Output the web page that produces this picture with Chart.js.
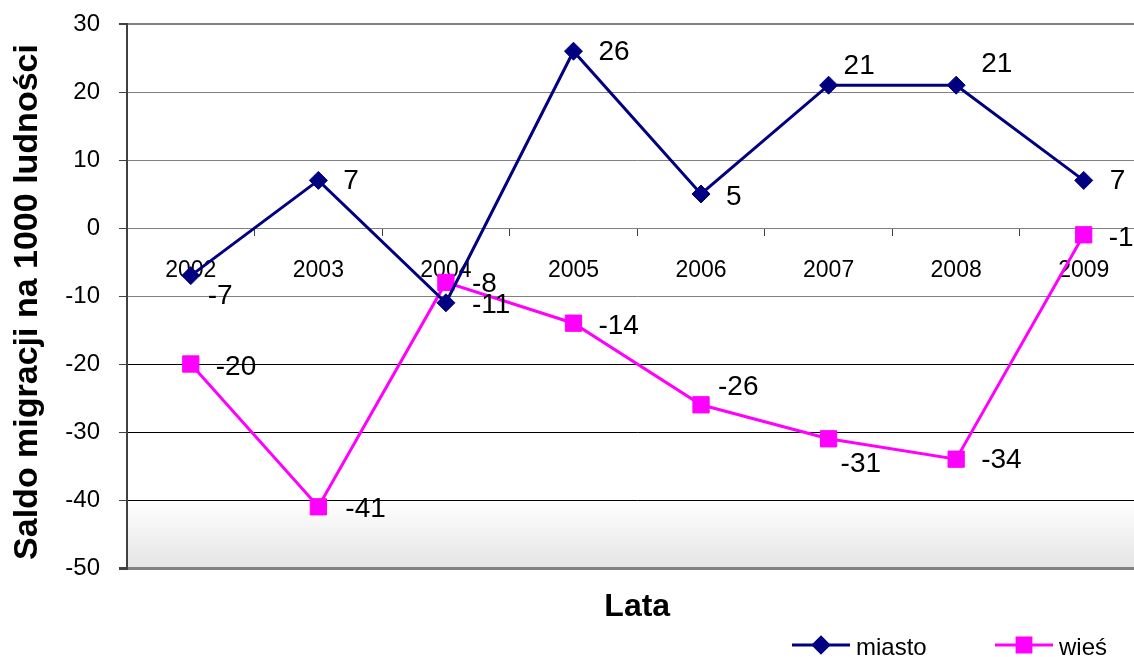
<!DOCTYPE html>
<html>
<head>
<meta charset="utf-8">
<style>
    html, body { margin: 0; padding: 0; background: #fff; overflow: hidden; }
    .chart-container { position: relative; width: 1160px; height: 657px; }
</style>
</head>
<body>
<div class="chart-container">
    <canvas id="migrationChart"></canvas>
</div>

<script src="https://cdn.jsdelivr.net/npm/chart.js"></script>
<script>
    // dane
    const years = ['2002', '2003', '2004', '2005', '2006', '2007', '2008', '2009'];
    const miasto = [-7, 7, -11, 26, 5, 21, 21, 7];
    const wies = [-20, -41, -8, -14, -26, -31, -34, -1];
    const yMin = -50;
    const yMax = 30;
    const yStep = 10;

    // przesunięcia etykiet wartości [dx, dy] względem punktu
    const miastoLabelShift = [[17, 21], [25, 1], [26, 2], [25, 1], [25, 3], [15, -19], [25, -21], [26, 1]];
    const wiesLabelShift = [[25, 3], [27, 2], [26, 2], [25, 3], [17, -18], [12, 25], [25, 1], [25, 3]];

    const FONT = "'Liberation Sans', Arial, sans-serif";

    // tło obszaru wykresu (biel przechodząca w szarość przy dole)
    const plotBackground = {
        id: 'plotBackground',
        beforeDraw(chart) {
            const {ctx, chartArea: a} = chart;
            const g = ctx.createLinearGradient(0, a.top, 0, a.bottom);
            g.addColorStop(0, '#ffffff');
            g.addColorStop(0.875, '#ffffff');
            g.addColorStop(1, '#e4e4e4');
            ctx.save();
            ctx.fillStyle = g;
            ctx.fillRect(a.left, a.top, a.right - a.left, a.bottom - a.top);
            ctx.restore();
        }
    };

    // etykiety wartości przy punktach
    const valueLabels = {
        id: 'valueLabels',
        afterDatasetsDraw(chart) {
            const ctx = chart.ctx;
            const shifts = [miastoLabelShift, wiesLabelShift];
            ctx.save();
            ctx.font = '28px ' + FONT;
            ctx.fillStyle = '#000';
            ctx.textAlign = 'left';
            ctx.textBaseline = 'middle';
            chart.data.datasets.forEach((ds, i) => {
                const meta = chart.getDatasetMeta(i);
                meta.data.forEach((pt, j) => {
                    const [dx, dy] = shifts[i][j];
                    ctx.fillText(String(ds.data[j]), pt.x + dx, pt.y + dy);
                });
            });
            ctx.restore();
        }
    };

    // tytuły osi i legenda na dole
    const axisTexts = {
        id: 'axisTexts',
        afterDraw(chart) {
            const {ctx, chartArea: a} = chart;
            ctx.save();
            ctx.fillStyle = '#000';
            ctx.font = 'bold 32px ' + FONT;
            ctx.textAlign = 'center';
            ctx.textBaseline = 'middle';
            ctx.fillText('Lata', (a.left + a.right) / 2, 607);

            ctx.save();
            ctx.translate(28, 302);
            ctx.rotate(-Math.PI / 2);
            ctx.font = 'bold 34px ' + FONT;
            ctx.fillText('Saldo migracji na 1000 ludności', 0, 0);
            ctx.restore();

            const items = [[792, 0], [995, 1]];
            items.forEach(([x0, i]) => {
                const ds = chart.data.datasets[i];
                ctx.strokeStyle = ds.borderColor;
                ctx.lineWidth = ds.borderWidth;
                ctx.beginPath();
                ctx.moveTo(x0, 645);
                ctx.lineTo(x0 + 58, 645);
                ctx.stroke();
                ctx.fillStyle = ds.pointBackgroundColor;
                ctx.strokeStyle = ds.pointBorderColor;
                Chart.helpers.drawPoint(ctx, {
                    pointStyle: ds.pointStyle,
                    radius: ds.pointRadius * 0.85,
                    rotation: 0,
                    borderWidth: 1
                }, x0 + 29, 645);
                ctx.fillStyle = '#000';
                ctx.font = '24px ' + FONT;
                ctx.textAlign = 'left';
                ctx.textBaseline = 'alphabetic';
                ctx.fillText(ds.label, x0 + 64, 655);
            });
            ctx.restore();
        }
    };

    const ctx = document.getElementById('migrationChart');
    new Chart(ctx.getContext('2d'), {
        type: 'line',
        data: {
            labels: years,
            datasets: [
                {
                    label: 'miasto',
                    data: miasto,
                    tension: 0,
                    borderColor: '#000080',
                    borderWidth: 3,
                    pointStyle: 'rectRot',
                    pointRadius: 9,
                    pointBackgroundColor: '#000080',
                    pointBorderColor: '#000080',
                    pointBorderWidth: 1,
                    fill: false
                },
                {
                    label: 'wieś',
                    data: wies,
                    tension: 0,
                    borderColor: '#ff00ff',
                    borderWidth: 3,
                    pointStyle: 'rect',
                    pointRadius: 11.5,
                    pointBackgroundColor: '#ff00ff',
                    pointBorderColor: '#ff00ff',
                    pointBorderWidth: 1,
                    fill: false
                }
            ]
        },
        options: {
            responsive: true,
            maintainAspectRatio: false,
            animation: false,
            layout: {
                padding: {top: 24, right: 3, bottom: 89, left: 0}
            },
            scales: {
                x: {
                    type: 'category',
                    position: {y: 0},
                    offset: true,
                    afterFit(scale) {
                        scale.paddingLeft = 0;
                        scale.paddingRight = 0;
                    },
                    grid: {
                        drawOnChartArea: false,
                        drawTicks: true,
                        tickLength: 7,
                        tickColor: '#404040',
                        offset: true
                    },
                    border: {display: true, color: '#808080', width: 1},
                    ticks: {
                        color: '#000',
                        padding: 22,
                        maxRotation: 0,
                        font: {family: FONT, size: 23}
                    }
                },
                y: {
                    min: yMin,
                    max: yMax,
                    afterFit(scale) {
                        scale.width = 127;
                        scale.paddingTop = 0;
                        scale.paddingBottom = 0;
                    },
                    ticks: {
                        stepSize: yStep,
                        color: '#000',
                        padding: 19,
                        font: {family: FONT, size: 24}
                    },
                    grid: {
                        drawTicks: true,
                        tickLength: 8,
                        tickColor: '#404040',
                        color: c => (c.tick && c.tick.value < -10 && c.tick.value > yMin) ? '#000000' : '#808080',
                        lineWidth: c => {
                            if (!c.tick) return 1;
                            if (c.tick.value === yMax) return 2;
                            if (c.tick.value === yMin) return 3;
                            return 1;
                        }
                    },
                    border: {display: true, color: '#404040', width: 2}
                }
            },
            plugins: {
                legend: {display: false},
                tooltip: {enabled: false}
            }
        },
        plugins: [plotBackground, valueLabels, axisTexts]
    });
</script>
</body>
</html>
